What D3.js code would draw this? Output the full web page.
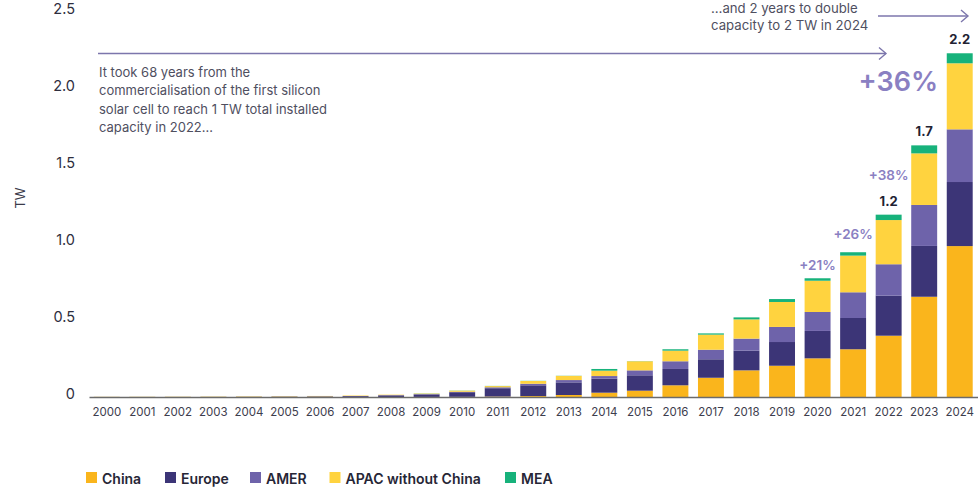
<!DOCTYPE html>
<html>
<head>
<meta charset="utf-8">
<script src="https://cdn.jsdelivr.net/npm/d3@7"></script>
<style>
  html, body { margin: 0; padding: 0; background: #fff; }
  svg { display: block; font-family: Inter, "Noto Sans", sans-serif; }
</style>
</head>
<body>
<svg id="chart" width="979" height="489"></svg>
<script>
// ---------------- data ----------------
const years = [2000,2001,2002,2003,2004,2005,2006,2007,2008,2009,2010,2011,2012,2013,2014,2015,2016,2017,2018,2019,2020,2021,2022,2023,2024];
const seriesNames = ["China","Europe","AMER","APAC without China","MEA"];
const china  = [0.0000,0.0000,0.0000,0.0001,0.0001,0.0001,0.0001,0.0001,0.0002,0.0004,0.001,0.003,0.006,0.013,0.028,0.041,0.076,0.125,0.173,0.203,0.251,0.310,0.398,0.651,0.980];
const europe = [0.0002,0.0003,0.0004,0.0006,0.0012,0.0023,0.0035,0.0055,0.0105,0.0165,0.030,0.054,0.070,0.082,0.091,0.100,0.106,0.120,0.128,0.154,0.178,0.203,0.260,0.330,0.416];
const amer   = [0.0001,0.0001,0.0002,0.0003,0.0004,0.0005,0.0007,0.0010,0.0015,0.0020,0.003,0.006,0.010,0.015,0.017,0.032,0.050,0.062,0.078,0.098,0.123,0.167,0.204,0.266,0.342];
const apac   = [0.0011,0.0013,0.0016,0.0020,0.0025,0.0025,0.0025,0.0030,0.0030,0.0035,0.007,0.008,0.018,0.027,0.035,0.059,0.069,0.098,0.125,0.162,0.203,0.238,0.287,0.335,0.429];
const mea    = [0.0000,0.0000,0.0000,0.0000,0.0000,0.0000,0.0000,0.0000,0.0000,0.0010,0.001,0.001,0.001,0.001,0.011,0.001,0.009,0.008,0.013,0.019,0.016,0.022,0.035,0.052,0.065];
const yTicks = [0, 0.5, 1.0, 1.5, 2.0, 2.5];
const totalYears  = [2022, 2023, 2024];
const totalLabels = ["1.2", "1.7", "2.2"];
const growthYears  = [2020, 2021, 2022, 2023];
const growthLabels = ["+21%", "+26%", "+38%", "+36%"];
const noteLeft  = ["It took 68 years from the", "commercialisation of the first silicon", "solar cell to reach 1 TW total installed", "capacity in 2022…"];
const noteRight = ["…and 2 years to double", "capacity to 2 TW in 2024"];
const yAxisTitle = "TW";

// ---------------- styles / layout ----------------
const colors = ["#FAB51C", "#3C3577", "#6E63AA", "#FFD33F", "#17B27B"];
const purpleText = "#8A80C2";
const arrowColor = "#7C76AC";
const legendX = [86, 165, 250, 329.5, 505];

const svg = d3.select("#chart");
const rows = years.map((y, i) => ({
  year: y,
  "China": china[i], "Europe": europe[i], "AMER": amer[i],
  "APAC without China": apac[i], "MEA": mea[i]
}));
const stacked = d3.stack().keys(seriesNames)(rows);

const x = d3.scaleBand().domain(years).range([89, 977.5]).paddingInner(0.27).paddingOuter(0.135);
const y = d3.scaleLinear().domain([0, 2.5]).range([397, 12]);

// bars
svg.append("g").selectAll("g").data(stacked).join("g")
  .attr("fill", (d, i) => colors[i])
  .selectAll("rect").data(d => d).join("rect")
  .attr("x", d => x(d.data.year))
  .attr("width", x.bandwidth())
  .attr("y", d => y(d[1]))
  .attr("height", d => Math.max(0, y(d[0]) - y(d[1])));

// x axis
const xAxis = svg.append("g").attr("transform", "translate(0,397)")
  .call(d3.axisBottom(x).tickSize(0).tickSizeOuter(0).tickPadding(11));
xAxis.select(".domain").attr("stroke", "#6b6b6b").attr("stroke-width", 1.5);
xAxis.selectAll("text").attr("font-size", 11.5).attr("fill", "#3d3d4d")
  .attr("font-family", "Inter, sans-serif");

// y axis
const yAxis = svg.append("g").attr("transform", "translate(88,0)")
  .call(d3.axisLeft(y).tickValues(yTicks).tickSize(0).tickPadding(13)
    .tickFormat(d => d === 0 ? "0" : d3.format(".1f")(d)));
yAxis.select(".domain").remove();
yAxis.selectAll("text").attr("font-size", 14.5).attr("fill", "#2e2e3e")
  .attr("dy", "0.1em").attr("font-family", "Inter, sans-serif");

svg.append("text")
  .attr("transform", "translate(25,198) rotate(-90)")
  .attr("text-anchor", "middle")
  .attr("font-size", 13).attr("fill", "#3a3a4a")
  .text(yAxisTitle);

// totals above bars
const totalOf = yr => { const i = years.indexOf(yr); return china[i] + europe[i] + amer[i] + apac[i] + mea[i]; };
svg.append("g").selectAll("text").data(totalYears).join("text")
  .attr("x", d => x(d) + x.bandwidth() / 2)
  .attr("y", d => y(totalOf(d)) - 9)
  .attr("text-anchor", "middle")
  .attr("font-size", 13).attr("font-weight", 700).attr("fill", "#222233")
  .text((d, i) => totalLabels[i]);

// growth labels
const growthOffsets = [8.5, 13, 35, 54];
const growthSizes = [13.5, 13.5, 13.5, 27];
svg.append("g").selectAll("text").data(growthYears).join("text")
  .attr("x", (d, i) => i === 3 ? x(d) + x.bandwidth() + 1 : x(d) + x.bandwidth() / 2)
  .attr("y", (d, i) => y(totalOf(d)) - growthOffsets[i])
  .attr("text-anchor", (d, i) => i === 3 ? "end" : "middle")
  .attr("font-size", (d, i) => growthSizes[i])
  .attr("font-weight", 600)
  .attr("fill", purpleText)
  .text((d, i) => growthLabels[i]);

// annotations
const leftNote = svg.append("text").attr("font-size", 13).attr("fill", "#4f4f5f");
noteLeft.forEach((t, i) => leftNote.append("tspan").attr("x", 99).attr("y", 77 + i * 18.4).text(t));
const rightNote = svg.append("text").attr("font-size", 13.2).attr("fill", "#4f4f5f");
noteRight.forEach((t, i) => rightNote.append("tspan").attr("x", 711).attr("y", 12.5 + i * 17).text(t));

function arrow(x1, x2, yy) {
  const g = svg.append("g").attr("stroke", arrowColor).attr("stroke-width", 1.4).attr("fill", "none");
  g.append("line").attr("x1", x1).attr("x2", x2).attr("y1", yy).attr("y2", yy);
  g.append("path").attr("d", `M${x2 - 7},${yy - 6} L${x2},${yy} L${x2 - 7},${yy + 6}`);
}
arrow(98, 886, 53.5);
arrow(878, 968, 16);

// legend
const legend = svg.append("g");
seriesNames.forEach((name, i) => {
  const g = legend.append("g").attr("transform", `translate(${legendX[i]},0)`);
  g.append("rect").attr("x", 0).attr("y", 472).attr("width", 11).attr("height", 11).attr("fill", colors[i]);
  g.append("text").attr("x", 16).attr("y", 483.5)
    .attr("font-size", 14).attr("font-weight", 600).attr("fill", "#262636").text(name);
});
</script>
</body>
</html>
